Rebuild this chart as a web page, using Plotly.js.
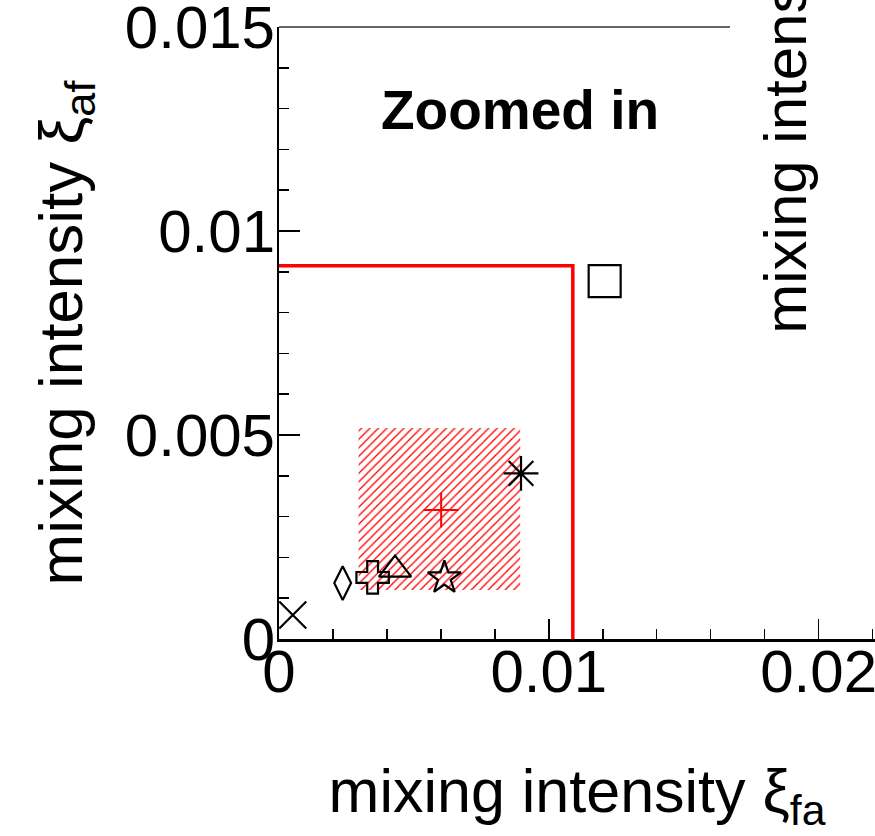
<!DOCTYPE html>
<html>
<head>
<meta charset="utf-8">
<script src="https://cdn.plot.ly/plotly-3.0.1.min.js"></script>
<style>html,body{margin:0;padding:0;background:#fff;}#chart{width:875px;height:836px;}</style>
</head>
<body>
<div id="chart"></div>
<script>
// ---- data ----
const pointNames   = ["x", "diamond", "cross", "triangle", "star", "asterisk", "square"];
const pointXi_fa   = [0.00051, 0.00236, 0.00347, 0.00430, 0.00613, 0.00897, 0.01207];
const pointXi_af   = [0.00059, 0.00137, 0.00151, 0.00170, 0.00150, 0.00406, 0.00877];
const pointSymbols = ["x-thin-open", "diamond-tall-open", "cross-open", "triangle-up-open", "star-open", "asterisk-open", "square-open"];
const pointSizes   = [27, 24, 27, 28, 25, 29, 32];

const meanXi_fa = [0.00601];
const meanXi_af = [0.00316];
const bandXi_fa = [0.00295, 0.00894];   // min, max
const bandXi_af = [0.00120, 0.00517];   // min, max

const limitXi_fa = 0.01089;
const limitXi_af = 0.00915;

const xTicks = [0, 0.01, 0.02];
const xTickText = ["0", "0.01", "0.02"];
const yTicks = [0, 0.005, 0.01, 0.015];
const yTickText = ["0", "0.005", "0.01", "0.015"];

// ---- traces ----
const FONT = "Liberation Sans, Arial, Helvetica, sans-serif";

const band = {
  type: "scatter", mode: "lines",
  x: [bandXi_fa[0], bandXi_fa[1], bandXi_fa[1], bandXi_fa[0], bandXi_fa[0]],
  y: [bandXi_af[0], bandXi_af[0], bandXi_af[1], bandXi_af[1], bandXi_af[0]],
  fill: "toself", fillcolor: "rgba(0,0,0,0)",
  fillpattern: {shape: "/", fgcolor: "#ff0000", bgcolor: "rgba(0,0,0,0)", size: 6, solidity: 0.22},
  line: {width: 0, color: "rgba(0,0,0,0)"},
  hoverinfo: "skip", showlegend: false
};

const limit = {
  type: "scatter", mode: "lines",
  x: [0, limitXi_fa, limitXi_fa],
  y: [limitXi_af, limitXi_af, 0],
  line: {color: "#ff0000", width: 3.5},
  showlegend: false
};

const mean = {
  type: "scatter", mode: "markers",
  x: meanXi_fa, y: meanXi_af,
  marker: {symbol: "cross-thin-open", size: 25, color: "#ff0000", opacity: 1, line: {color: "#ff0000", width: 2}},
  showlegend: false
};

const points = {
  type: "scatter", mode: "markers",
  x: pointXi_fa, y: pointXi_af, text: pointNames,
  marker: {symbol: pointSymbols, size: pointSizes, color: "#000", opacity: 1, line: {color: "#000", width: 2.2}},
  showlegend: false
};

const layout = {
  width: 875, height: 836,
  margin: {l: 279, r: 0, t: 27, b: 197},
  paper_bgcolor: "#fff", plot_bgcolor: "#fff",
  font: {family: FONT, color: "#000"},
  showlegend: false,
  xaxis: {
    range: [0, 0.02209], tickvals: xTicks, ticktext: xTickText,
    ticks: "inside", ticklen: 20, tickwidth: 1.5, tickcolor: "#000",
    minor: {dtick: 0.002, tick0: 0, ticks: "inside", ticklen: 10, tickwidth: 1.5, tickcolor: "#000"},
    showline: true, linecolor: "#000", linewidth: 2.5,
    showgrid: false, zeroline: false,
    tickfont: {size: 60, family: FONT, color: "#000"},
    ticklabelstandoff: -22, ticklabeloverflow: "allow",
    title: {text: "mixing intensity ξ<sub>fa</sub>", font: {size: 61, family: FONT, color: "#000"}, standoff: 66}
  },
  yaxis: {
    range: [0, 0.015], tickvals: yTicks, ticktext: yTickText,
    ticks: "inside", ticklen: 21, tickwidth: 1.5, tickcolor: "#000",
    minor: {dtick: 0.001, tick0: 0, ticks: "inside", ticklen: 10, tickwidth: 1.5, tickcolor: "#000"},
    showline: true, linecolor: "#000", linewidth: 2,
    showgrid: false, zeroline: false,
    tickfont: {size: 60, family: FONT, color: "#000"},
    ticklabelstandoff: -10, ticklabeloverflow: "allow",
    title: {text: "mixing intensity ξ<sub>af</sub>", font: {size: 62, family: FONT, color: "#000"}, standoff: 22}
  },
  shapes: [
    {type: "line", xref: "paper", yref: "paper", x0: 0, x1: 0.7567, y0: 1, y1: 1,
     line: {color: "#333", width: 1.5}}
  ],
  annotations: [
    {text: "<b>Zoomed in</b>", xref: "paper", yref: "paper", x: 0.4044, y: 0.8644,
     xanchor: "center", yanchor: "middle", showarrow: false,
     font: {size: 55, family: FONT, color: "#000"}},
    {text: "mixing intensity ξ<sub>fa</sub>", xref: "paper", yref: "paper", x: 0.856, y: 0.495,
     xanchor: "center", yanchor: "bottom", textangle: -90, showarrow: false,
     font: {size: 60, family: FONT, color: "#000"}}
  ]
};

Plotly.newPlot("chart", [band, limit, mean, points], layout, {displayModeBar: false, staticPlot: true});
</script>
</body>
</html>
